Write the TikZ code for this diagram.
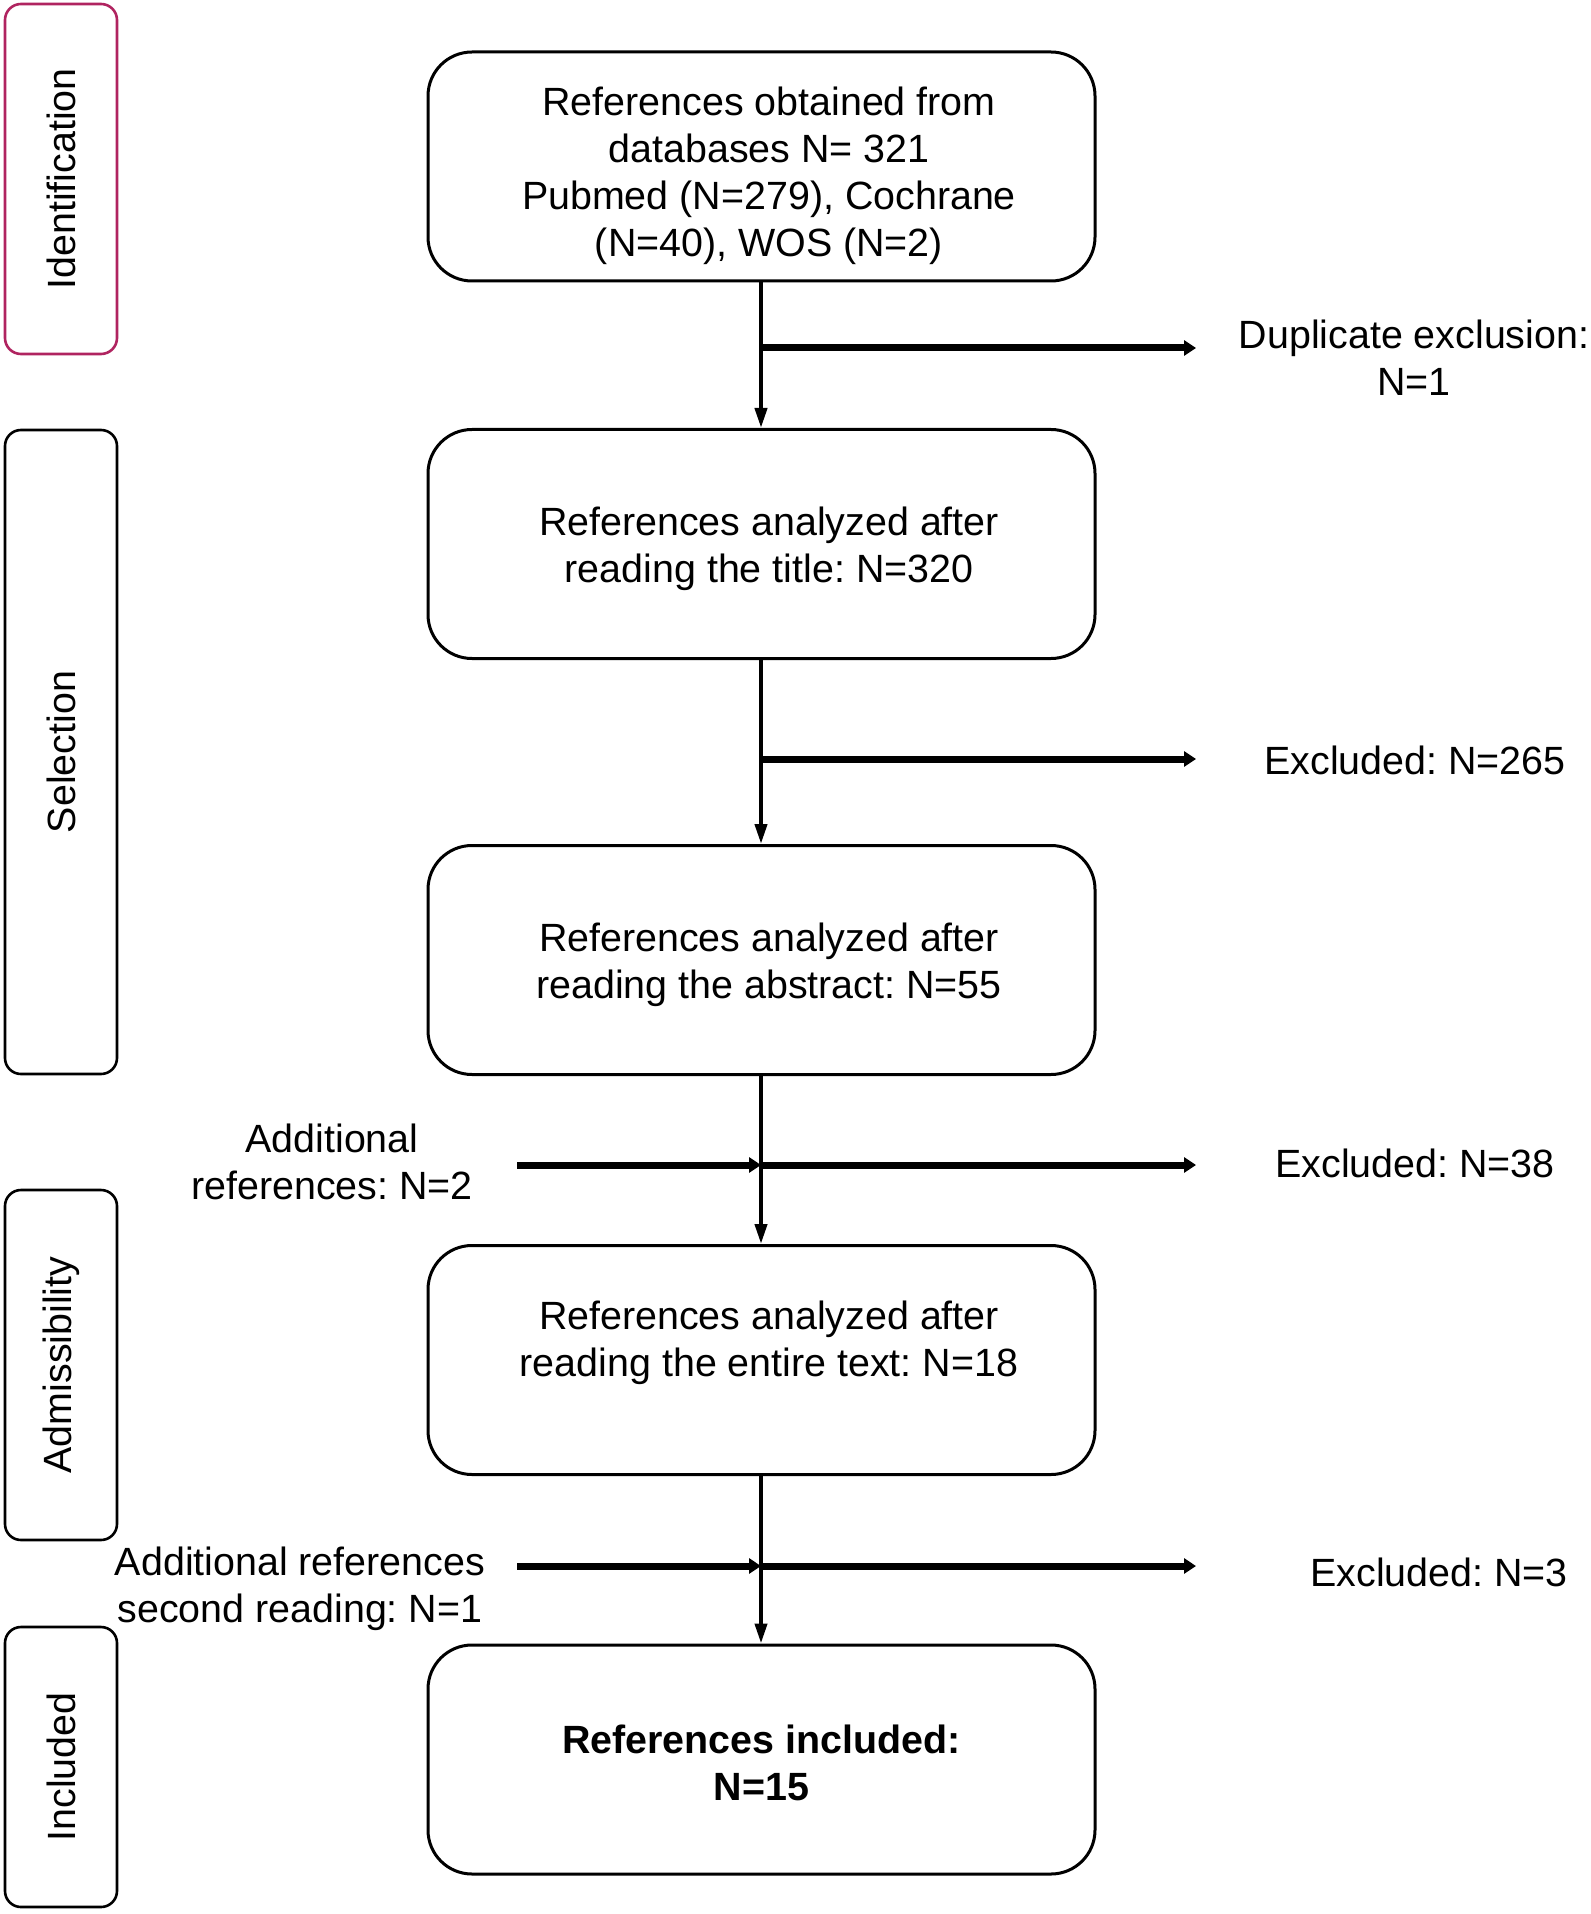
\documentclass[tikz,border=0pt]{standalone}
\usepackage{fontspec}
\setmainfont{Liberation Sans}
\usetikzlibrary{arrows.meta}
\definecolor{idpink}{RGB}{176,36,96}
\frenchspacing
\begin{document}
\begin{tikzpicture}[x=0.5pt,y=-0.5pt,
  mainbox/.style={draw=black,line width=1.5pt,rounded corners=22pt,minimum width=333.5pt,minimum height=114.5pt,inner sep=0pt},
  boxtext/.style={align=center,inner sep=0pt,font=\fontsize{19.7}{23.5}\selectfont},
  sidebox/.style={draw=black,line width=1.3pt,rounded corners=8pt,minimum width=56pt,align=center,inner sep=0pt},
  sidelabel/.style={rotate=90,font=\fontsize{19.7}{21}\selectfont},
  lbl/.style={align=center,inner sep=0pt,font=\fontsize{19.7}{23.5}\selectfont},
  vflow/.style={line width=2pt,-{Triangle[length=10pt,width=6pt]}},
  hflow/.style={line width=3.5pt,-{Triangle[length=6pt,width=7.5pt]}}]
\useasboundingbox (0,0) rectangle (1590,1914);
% side boxes
\node[sidebox,draw=idpink,minimum height=175pt] (sid) at (61,179) {};
\node[sidelabel] (sidt) at (61,179) {Identification};
\node[sidebox,minimum height=322pt] (ssel) at (61,752) {};
\node[sidelabel] (sselt) at (61,752) {Selection};
\node[sidebox,minimum height=175pt] (sadm) at (61,1365) {};
\node[sidelabel] (sadmt) at (61,1365) {Admissibility};
\node[sidebox,minimum height=140pt] (sinc) at (61,1767) {};
\node[sidelabel] (sinct) at (61,1767) {Included};
% main boxes
\node[mainbox] (b1) at (761.5,166.5) {};
\node[mainbox] (b2) at (761.5,544) {};
\node[mainbox] (b3) at (761.5,960) {};
\node[mainbox] (b4) at (761.5,1360) {};
\node[mainbox] (b5) at (761.5,1759.5) {};
\node[boxtext] (b1t) at (769,176) {References obtained from\\databases N= 321\\Pubmed (N=279), Cochrane\\(N=40), WOS (N=2)};
\node[boxtext] (b2t) at (769,549) {References analyzed after\\reading the title: N=320};
\node[boxtext] (b3t) at (769,965) {References analyzed after\\reading the abstract: N=55};
\node[boxtext] (b4t) at (769,1343) {References analyzed after\\reading the entire text: N=18};
\node[boxtext,font=\fontsize{19.7}{23.5}\selectfont\bfseries] (b5t) at (761.5,1763) {References included:\\N=15};
% side labels
\node[lbl] (e1) at (1414,358) {Duplicate exclusion:\\N=1};
\node[lbl] (e2) at (1415,760) {Excluded: N=265};
\node[lbl] (e3) at (1415,1163) {Excluded: N=38};
\node[lbl] (e4) at (1439,1572) {Excluded: N=3};
\node[lbl] (a3) at (332,1162) {Additional\\references: N=2};
\node[lbl] (a4) at (300,1589) {Additional references\\second reading: N=1};
% branch coordinates
\coordinate (j1) at (761,348);
\coordinate (t1) at (1196,348);
\coordinate (j2) at (761,759);
\coordinate (t2) at (1196,759);
\coordinate (j3) at (761,1165);
\coordinate (t3) at (1196,1165);
\coordinate (s3) at (517,1165);
\coordinate (j4) at (761,1566);
\coordinate (t4) at (1196,1566);
\coordinate (s4) at (517,1566);
% vertical flow
\draw[vflow] (b1.south -| j1) -- (b2.north -| j1);
\draw[vflow] (b2.south -| j2) -- (b3.north -| j2);
\draw[vflow] (b3.south -| j3) -- (b4.north -| j3);
\draw[vflow] (b4.south -| j4) -- (b5.north -| j4);
% horizontal branches
\draw[hflow] (j1) -- (t1);
\draw[hflow] (j2) -- (t2);
\draw[hflow] (j3) -- (t3);
\draw[hflow] (j4) -- (t4);
\draw[hflow] (s3) -- (j3);
\draw[hflow] (s4) -- (j4);
\end{tikzpicture}
\end{document}
